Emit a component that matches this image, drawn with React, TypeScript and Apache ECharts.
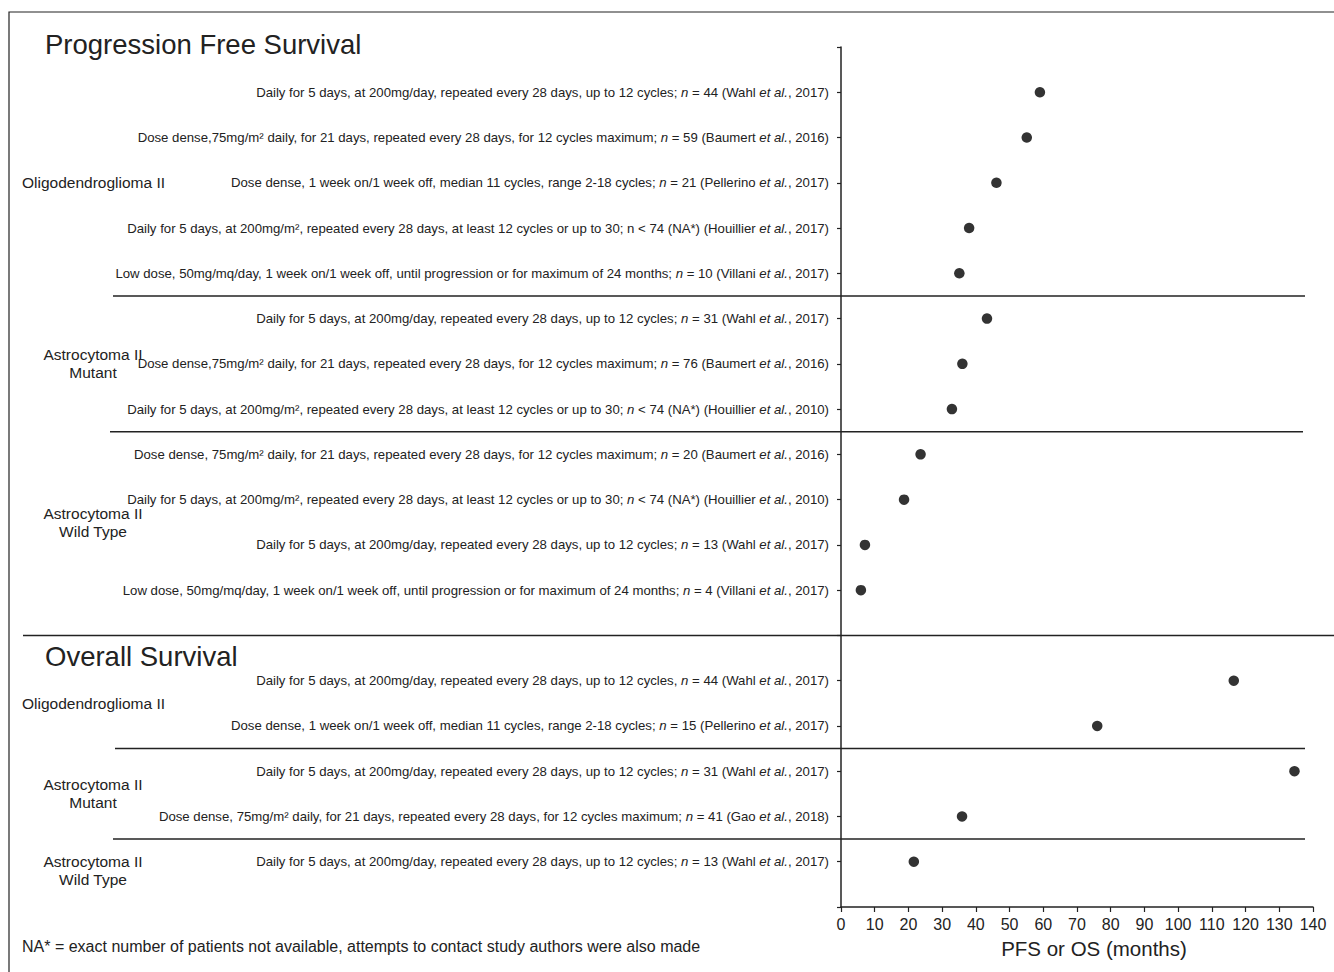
import React, { useEffect, useRef } from "react";
import * as echarts from "echarts";

// PFS rows (top to bottom); _text_ marks italic
const pfsLabels = [
  "Daily for 5 days, at 200mg/day, repeated every 28 days, up to 12 cycles; _n_ = 44 (Wahl _et al._, 2017)",
  "Dose dense,75mg/m² daily, for 21 days, repeated every 28 days, for 12 cycles maximum; _n_ = 59 (Baumert _et al._, 2016)",
  "Dose dense, 1 week on/1 week off, median 11 cycles, range 2-18 cycles; _n_ = 21 (Pellerino _et al._, 2017)",
  "Daily for 5 days, at 200mg/m², repeated every 28 days, at least 12 cycles or up to 30; n < 74 (NA*) (Houillier _et al._, 2017)",
  "Low dose, 50mg/mq/day, 1 week on/1 week off, until progression or for maximum of 24 months; _n_ = 10 (Villani _et al._, 2017)",
  "Daily for 5 days, at 200mg/day, repeated every 28 days, up to 12 cycles; _n_ = 31 (Wahl _et al._, 2017)",
  "Dose dense,75mg/m² daily, for 21 days, repeated every 28 days, for 12 cycles maximum; _n_ = 76 (Baumert _et al._, 2016)",
  "Daily for 5 days, at 200mg/m², repeated every 28 days, at least 12 cycles or up to 30; _n_ < 74 (NA*) (Houillier _et al._, 2010)",
  "Dose dense, 75mg/m² daily, for 21 days, repeated every 28 days, for 12 cycles maximum; _n_ = 20 (Baumert _et al._, 2016)",
  "Daily for 5 days, at 200mg/m², repeated every 28 days, at least 12 cycles or up to 30; _n_ < 74 (NA*) (Houillier _et al._, 2010)",
  "Daily for 5 days, at 200mg/day, repeated every 28 days, up to 12 cycles; _n_ = 13 (Wahl _et al._, 2017)",
  "Low dose, 50mg/mq/day, 1 week on/1 week off, until progression or for maximum of 24 months; _n_ = 4 (Villani _et al._, 2017)",
];
const pfsValues = [59.0, 55.1, 46.1, 38.0, 35.1, 43.3, 36.0, 32.9, 23.6, 18.7, 7.1, 5.9];

// OS rows (top to bottom)
const osLabels = [
  "Daily for 5 days, at 200mg/day, repeated every 28 days, up to 12 cycles, _n_ = 44 (Wahl _et al._, 2017)",
  "Dose dense, 1 week on/1 week off, median 11 cycles, range 2-18 cycles; _n_ = 15 (Pellerino _et al._, 2017)",
  "Daily for 5 days, at 200mg/day, repeated every 28 days, up to 12 cycles; _n_ = 31 (Wahl _et al._, 2017)",
  "Dose dense, 75mg/m² daily, for 21 days, repeated every 28 days, for 12 cycles maximum; _n_ = 41 (Gao _et al._, 2018)",
  "Daily for 5 days, at 200mg/day, repeated every 28 days, up to 12 cycles; _n_ = 13 (Wahl _et al._, 2017)",
];
const osValues = [116.5, 76.0, 134.5, 35.9, 21.6];

const xTicks = { min: 0, max: 140, interval: 10 };
const sectionTitles = ["Progression Free Survival", "Overall Survival"];
const footnote = "NA* = exact number of patients not available, attempts to contact study authors were also made";

const FONT = "'Liberation Sans', Arial, sans-serif";
const INK = "#222";

export default function App() {
  const ref = useRef<HTMLDivElement>(null);
  useEffect(() => {
    document.body.style.margin = "0";
    const el = ref.current!;
    const chart = echarts.init(el, null, { renderer: "svg" });

    const osStart = pfsLabels.length + 1; // one blank slot between sections
    const labelMap: Record<number, string> = {};
    pfsLabels.forEach((l, i) => (labelMap[i] = l));
    osLabels.forEach((l, i) => (labelMap[osStart + i] = l));
    const richify = (s: string) => s.replace(/_([^_]+)_/g, "{i|$1}");

    const data = [
      ...pfsValues.map((v, i) => [v, i]),
      ...osValues.map((v, i) => [v, osStart + i]),
    ];
    const yMax = osStart + osLabels.length;

    chart.setOption({
      animation: false,
      grid: { left: 841, right: 21, top: 47, bottom: 65, containLabel: false },
      xAxis: {
        type: "value",
        min: xTicks.min,
        max: xTicks.max,
        interval: xTicks.interval,
        axisLine: { show: true, onZero: false, lineStyle: { color: INK, width: 1.5 } },
        axisTick: { show: true, length: 5, lineStyle: { color: INK, width: 1.2 } },
        splitLine: { show: false },
        axisLabel: { color: INK, fontSize: 16, fontFamily: FONT, margin: 9 },
        name: "PFS or OS (months)",
        nameLocation: "middle",
        nameGap: 31,
        nameTextStyle: { color: INK, fontSize: 20.5, fontFamily: FONT, padding: [0, 0, 0, 34] },
      },
      yAxis: {
        type: "value",
        inverse: true,
        min: -1,
        max: yMax,
        interval: 1,
        axisLine: { show: true, onZero: false, lineStyle: { color: INK, width: 1.5 } },
        axisTick: { show: true, length: 4, lineStyle: { color: INK, width: 1.2 } },
        splitLine: { show: false },
        axisLabel: {
          color: INK,
          fontSize: 13.2,
          fontFamily: FONT,
          margin: 12,
          formatter: (v: number) => (labelMap[v] ? richify(labelMap[v]) : ""),
          rich: { i: { fontStyle: "italic", fontSize: 13.2, fontFamily: FONT, color: INK } },
        },
      },
      series: [
        {
          type: "scatter",
          symbol: "circle",
          symbolSize: 10.5,
          itemStyle: { color: "#000" },
          data,
        },
      ],
    });

    const py = (v: number) => chart.convertToPixel({ yAxisIndex: 0 }, v) as number;
    const hline = (y: number, x1: number, x2: number) => ({
      type: "line",
      shape: { x1, y1: y, x2, y2: y },
      style: { stroke: INK, lineWidth: 1.5 },
      silent: true,
    });
    const txt = (text: string, x: number, y: number, size: number, align = "left") => ({
      type: "text",
      x,
      y,
      style: {
        text,
        fill: INK,
        fontSize: size,
        fontFamily: FONT,
        align,
        verticalAlign: "middle",
        lineHeight: 18,
      },
      silent: true,
    });

    chart.setOption({
      graphic: [
        {
          type: "rect",
          shape: { x: 9, y: 12, width: 1340, height: 970 },
          style: { fill: "none", stroke: INK, lineWidth: 1.2 },
          silent: true,
        },
        hline(py(4.5), 113, 1305),
        hline(py(7.5), 110, 1303),
        hline(py(pfsLabels.length), 23, 1334),
        hline(py(osStart + 1.5), 115, 1305),
        hline(py(osStart + 3.5), 113, 1305),
        txt(sectionTitles[0], 45, 44, 27.5),
        txt(sectionTitles[1], 45, 656, 27.5),
        txt("Oligodendroglioma II", 22, py(2), 15.5),
        txt("Astrocytoma II\nMutant", 93, py(6), 15.5, "center"),
        txt("Astrocytoma II\nWild Type", 93, py(9.5), 15.5, "center"),
        txt("Oligodendroglioma II", 22, py(osStart + 0.5), 15.5),
        txt("Astrocytoma II\nMutant", 93, py(osStart + 2.5), 15.5, "center"),
        txt("Astrocytoma II\nWild Type", 93, py(osStart + 4.2), 15.5, "center"),
        txt(footnote, 22, 946, 16),
      ],
    });

    return () => chart.dispose();
  }, []);
  return <div ref={ref} style={{ position: "absolute", left: 0, top: 0, width: 1334, height: 972 }} />;
}
